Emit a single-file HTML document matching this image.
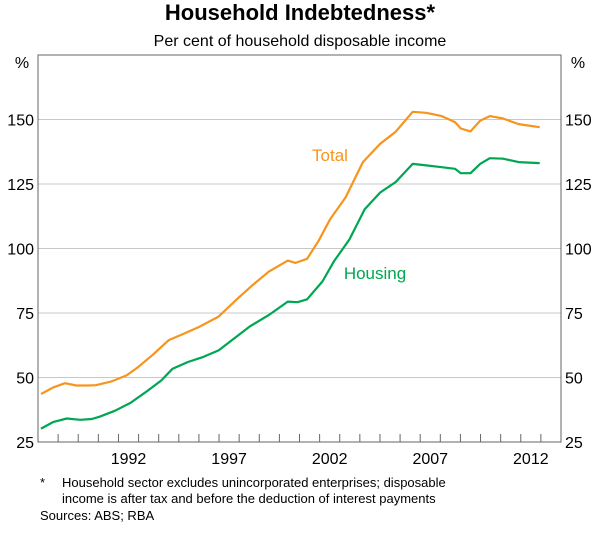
<!DOCTYPE html>
<html><head><meta charset="utf-8"><style>
body{margin:0;background:#fff;width:600px;height:531px;overflow:hidden;font-family:"Liberation Sans",Arial,sans-serif}
</style></head><body>
<svg id="chart" width="600" height="531" xmlns="http://www.w3.org/2000/svg" font-family="Liberation Sans, Arial, sans-serif">
<text x="300" y="20" text-anchor="middle" font-size="22" font-weight="bold">Household Indebtedness*</text>
<text x="300" y="46" text-anchor="middle" font-size="16">Per cent of household disposable income</text>
<g id="grid"></g>
<g id="axes"></g>
<g id="series"></g>
<text x="330" y="161" text-anchor="middle" font-size="17" fill="#f7941d">Total</text>
<text x="375" y="279" text-anchor="middle" font-size="17" fill="#00a651">Housing</text>
<text x="40" y="487" font-size="13">*</text>
<text x="62" y="487" font-size="13">Household sector excludes unincorporated enterprises; disposable</text>
<text x="62" y="503" font-size="13">income is after tax and before the deduction of interest payments</text>
<text x="40" y="520" font-size="13">Sources: ABS; RBA</text>
</svg>
<script>
const yTicks=[25,50,75,100,125,150];
const xLabels=[1992,1997,2002,2007,2012];
const totalYears=[1988.15,1988.77,1989.34,1989.91,1990.48,1990.87,1991.63,1992.40,1992.97,1993.73,1994.50,1995.26,1996.03,1996.98,1997.94,1998.70,1999.47,2000.42,2000.80,2001.38,2001.95,2002.52,2003.29,2004.15,2005.01,2005.77,2006.63,2007.30,2008.07,2008.73,2009.02,2009.50,2009.98,2010.46,2011.12,2011.89,2012.94];
const totalValues=[43.6,46.2,47.8,46.9,46.9,47,48.4,50.8,54,59,64.5,67,69.7,73.6,80.7,86,91,95.3,94.4,96,103,111.3,119.8,133.5,140.6,145.2,153,152.6,151.3,149,146.5,145.4,149.5,151.3,150.4,148.2,147];
const housingYears=[1988.15,1988.77,1989.43,1990.10,1990.68,1991.06,1991.82,1992.59,1993.35,1994.12,1994.69,1995.45,1996.22,1996.98,1997.75,1998.51,1999.47,2000.42,2000.90,2001.38,2002.14,2002.71,2003.48,2004.24,2005.01,2005.77,2006.63,2007.30,2008.07,2008.73,2009.02,2009.50,2009.98,2010.46,2011.12,2011.89,2012.94];
const housingValues=[30.2,32.8,34.1,33.6,33.9,34.8,37.1,40.1,44.3,48.8,53.4,56,58,60.5,65.1,69.7,74.2,79.4,79.2,80.3,87.2,95,103.5,115.2,121.7,125.7,132.8,132.2,131.5,130.9,129.2,129.2,132.8,135,134.8,133.5,133.1];
const L=38,R=561,T=55,B=442,X0=1988,X1=2014,Y0=25,Y1=175;
const sx=v=>L+(v-X0)/(X1-X0)*(R-L);
const sy=v=>B-(v-Y0)/(Y1-Y0)*(B-T);
const NS='http://www.w3.org/2000/svg';
function mk(t,a,p){const e=document.createElementNS(NS,t);for(const k in a)e.setAttribute(k,a[k]);p.appendChild(e);return e;}
const grid=document.getElementById('grid'),axes=document.getElementById('axes'),ser=document.getElementById('series');
yTicks.forEach(v=>{
 if(v>Y0){const g=mk('line',{x1:L,x2:R,y1:sy(v),y2:sy(v),stroke:'#c8c8c8','stroke-width':1},grid);
 
 }
 const a=mk('text',{x:L-4,y:sy(v)+6,'text-anchor':'end','font-size':16},axes);a.textContent=v;
 
 
 const b=mk('text',{x:R+4,y:sy(v)+6,'text-anchor':'start','font-size':16},axes);b.textContent=v;
 
 
});
const p1=mk('text',{x:22,y:68,'text-anchor':'middle','font-size':16},axes);p1.textContent='%';


const p2=mk('text',{x:578,y:68,'text-anchor':'middle','font-size':16},axes);p2.textContent='%';


const fr=mk('rect',{x:L,y:T,width:R-L,height:B-T,fill:'none',stroke:'#666','stroke-width':1},axes);


for(let yr=X0+1;yr<X1;yr++){const t=mk('line',{x1:sx(yr),x2:sx(yr),y1:B,y2:B-8,stroke:'#666','stroke-width':1},axes);
 
 }
xLabels.forEach(yr=>{const t=mk('text',{x:sx(yr+0.5),y:B+22,'text-anchor':'middle','font-size':16},axes);t.textContent=yr;
 
 });
function line(xs,ys,c,n){const d=xs.map((x,i)=>(i?'L':'M')+sx(x).toFixed(1)+','+sy(ys[i]).toFixed(1)).join('');
 const p=mk('path',{d:d,fill:'none',stroke:c,'stroke-width':2.2,'stroke-linejoin':'round'},ser);
 
 }
line(totalYears,totalValues,'#f7941d','total-line');
line(housingYears,housingValues,'#00a651','housing-line');
</script>
</body></html>
